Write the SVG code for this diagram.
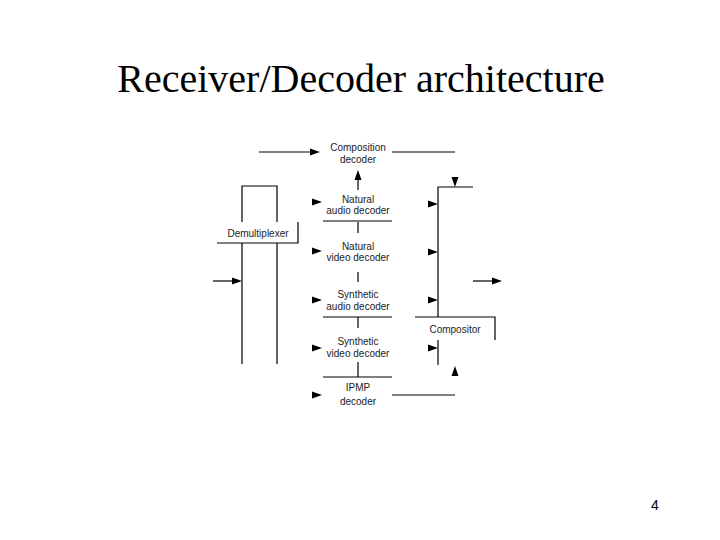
<svg xmlns="http://www.w3.org/2000/svg" xmlns:xlink="http://www.w3.org/1999/xlink" width="720" height="540" viewBox="0 0 720 540">
<style>
.ln{stroke:#000;stroke-width:1.2;fill:none}
.lb{font-family:"Liberation Sans",Arial,sans-serif;font-size:10px;fill:#222;text-anchor:middle}
.ttl{font-family:"Liberation Serif","Times New Roman",serif;font-size:40px;fill:#000;text-anchor:middle}
.pg{font-family:"Liberation Sans",Arial,sans-serif;font-size:14px;fill:#000}
</style>
<defs>
<path id="ah" d="M0,0 L-10,-3.5 L-10,3.5 Z" fill="#000"/>
</defs>
<rect width="720" height="540" fill="#fff"/>
<text class="ttl" x="361" y="92">Receiver/Decoder architecture</text>
<text class="pg" x="651" y="510">4</text>

<g id="demux">
<path class="ln" d="M242,222 V186 H277 V222"/>
<path class="ln" d="M242,243 V364 M277,243 V364"/>
<path class="ln" d="M217,243 H298 V222"/>
<text class="lb" x="258" y="237">Demultiplexer</text>
</g>

<g id="comp-dec">
<text class="lb" x="358" y="151">Composition</text>
<text class="lb" x="358" y="163">decoder</text>
</g>
<g id="nat-audio">
<text class="lb" x="358" y="203">Natural</text>
<text class="lb" x="358" y="214">audio decoder</text>
<path class="ln" d="M323,221 H392"/>
</g>
<g id="nat-video">
<text class="lb" x="358" y="250">Natural</text>
<text class="lb" x="358" y="261">video decoder</text>
</g>
<g id="syn-audio">
<text class="lb" x="358" y="298">Synthetic</text>
<text class="lb" x="358" y="310">audio decoder</text>
<path class="ln" d="M323,317 H392"/>
</g>
<g id="syn-video">
<text class="lb" x="358" y="345">Synthetic</text>
<text class="lb" x="358" y="357">video decoder</text>
<path class="ln" d="M323,377 H392"/>
</g>
<g id="ipmp">
<text class="lb" x="358" y="391">IPMP</text>
<text class="lb" x="358" y="405">decoder</text>
</g>
<g id="compositor">
<path class="ln" d="M415,317 H495 V340"/>
<text class="lb" x="455" y="333">Compositor</text>
</g>

<g id="connectors">
<path class="ln" d="M259,152 H312"/>
<use xlink:href="#ah" x="320" y="152"/>
<path class="ln" d="M392,152 H455"/>
<path class="ln" d="M358,190 V178"/>
<use xlink:href="#ah" transform="translate(358,170) rotate(-90)"/>
<path class="ln" d="M358,222 V233"/>
<path class="ln" d="M358,272 V282"/>
<path class="ln" d="M358,317 V328"/>
<path class="ln" d="M358,362 V377"/>
<path class="ln" d="M392,395 H455"/>
<use xlink:href="#ah" x="322" y="202"/>
<use xlink:href="#ah" x="322" y="251"/>
<use xlink:href="#ah" x="322" y="300"/>
<use xlink:href="#ah" x="322" y="348"/>
<use xlink:href="#ah" x="322" y="395"/>
<path class="ln" d="M213,281 H233"/>
<use xlink:href="#ah" x="242" y="281"/>
<path class="ln" d="M473,187 H438 V317"/>
<path class="ln" d="M438,340 V365"/>
<use xlink:href="#ah" transform="translate(455,187) rotate(90)"/>
<use xlink:href="#ah" transform="translate(455,366) rotate(-90)"/>
<use xlink:href="#ah" x="438" y="204"/>
<use xlink:href="#ah" x="438" y="252"/>
<use xlink:href="#ah" x="438" y="300"/>
<use xlink:href="#ah" x="438" y="348"/>
<path class="ln" d="M473,281 H494"/>
<use xlink:href="#ah" x="502" y="281"/>
</g>
</svg>
